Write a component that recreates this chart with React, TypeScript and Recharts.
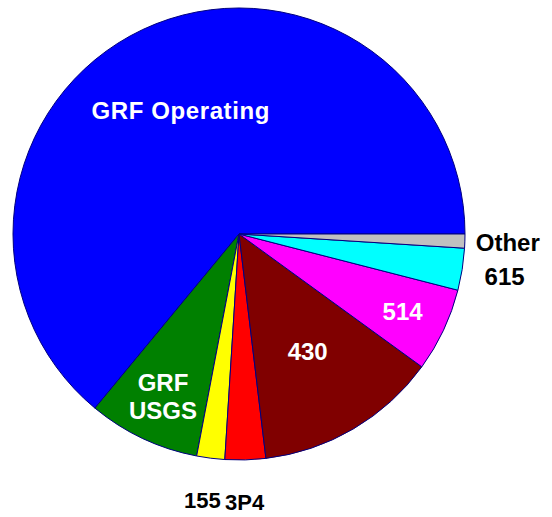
import { Pie, PieChart, Cell } from "recharts"

const names = ["GRF Operating", "GRF USGS", "155", "3P4", "430", "514", "615", "Other"]
const shares = [64.0, 8.0, 2.0, 2.9, 13.1, 6.0, 3.0, 1.0]
const colors = ["#0000FF", "#008000", "#FFFF00", "#FF0000", "#800000", "#FF00FF", "#00FFFF", "#C0C0C0"]

const labelLines: Record<string, string[]> = {
  "GRF Operating": ["GRF Operating"],
  "GRF USGS": ["GRF", "USGS"],
}

// how far out each label sits (fraction of the radius), its ink and size
const labelStyle: Record<string, { r: number; fill: string; size?: number; dx?: number; spacing?: number }> = {
  "GRF Operating": { r: 0.605, fill: "#FFFFFF", spacing: 0.6 },
  "GRF USGS": { r: 0.79, fill: "#FFFFFF" },
  "155": { r: 1.185, fill: "#000000", size: 22, dx: -3 },
  "3P4": { r: 1.185, fill: "#000000", size: 22, dx: -2 },
  "430": { r: 0.6, fill: "#FFFFFF" },
  "514": { r: 0.8, fill: "#FFFFFF" },
  "615": { r: 1.19, fill: "#000000" },
  "Other": { r: 1.19, fill: "#000000" },
}

const data = names.map((name, i) => ({ name, value: shares[i] }))

const RADIAN = Math.PI / 180

function renderLabel(props: any) {
  const { cx, cy, midAngle, outerRadius, name } = props
  const style = labelStyle[name]
  const r = outerRadius * style.r
  const x = cx + r * Math.cos(-midAngle * RADIAN) + (style.dx ?? 0)
  const y = cy + r * Math.sin(-midAngle * RADIAN)
  const lines = labelLines[name] ?? [name]
  const lh = 28
  const top = y - ((lines.length - 1) * lh) / 2
  return (
    <text
      x={x}
      y={top}
      fill={style.fill}
      textAnchor="middle"
      dominantBaseline="central"
      fontFamily="Liberation Sans, Arial, sans-serif"
      fontWeight="bold"
      fontSize={style.size ?? 24}
      letterSpacing={style.spacing ?? 0}
    >
      {lines.map((line, i) => (
        <tspan key={i} x={x} y={top + i * lh}>
          {line}
        </tspan>
      ))}
    </text>
  )
}

export default function App() {
  return (
    <div style={{ position: "absolute", left: 0, top: 0, background: "#FFFFFF" }}>
      <PieChart width={552} height={517} margin={{ top: 0, right: 0, bottom: 0, left: 0 }}>
        <Pie
          data={data}
          dataKey="value"
          nameKey="name"
          cx={239}
          cy={234}
          outerRadius={226}
          startAngle={0}
          endAngle={360}
          stroke="#000080"
          strokeWidth={1}
          label={renderLabel}
          labelLine={false}
          isAnimationActive={false}
        >
          {data.map((d, i) => (
            <Cell key={d.name} fill={colors[i]} />
          ))}
        </Pie>
      </PieChart>
    </div>
  )
}
